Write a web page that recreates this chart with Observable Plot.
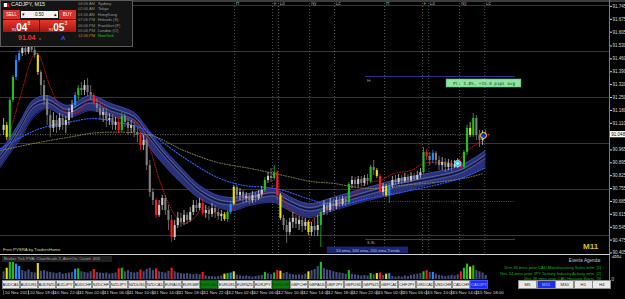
<!DOCTYPE html>
<html><head><meta charset="utf-8">
<script src="https://cdn.jsdelivr.net/npm/d3@7"></script>
<script src="https://cdn.jsdelivr.net/npm/@observablehq/plot@0.6"></script>
<style>
html,body{margin:0;padding:0;background:#000;}
#wrap{position:relative;width:625px;height:299px;background:#000;overflow:hidden;font-family:"Liberation Sans",Arial,sans-serif;}
.a{position:absolute;white-space:nowrap;line-height:1;}
.btn{position:absolute;top:280px;height:7px;width:16px;background:#e9e9e9;border:0.5px solid #8c8c8c;color:#222;font-size:4px;line-height:7px;text-align:center;overflow:hidden;}
.tf{position:absolute;top:280px;height:7px;width:17px;background:#e9e9e9;border:0.5px solid #8c8c8c;color:#222;font-size:4.2px;line-height:7px;text-align:center;}
</style></head>
<body><div id="wrap"></div>
<script>
// ---------------- DATA ----------------
const open0 = 91.071;
const close = [91.098,91.033,91.234,91.359,91.451,91.489,91.516,91.495,91.533,91.506,
91.478,91.386,91.315,91.234,91.152,91.082,91.125,91.087,91.136,91.098,
91.125,91.168,91.207,91.261,91.299,91.288,91.315,91.277,91.261,91.217,
91.190,91.152,91.168,91.125,91.136,91.098,91.114,91.071,91.147,91.114,
91.082,91.098,91.060,91.044,90.989,91.016,90.880,90.734,90.690,90.609,
90.663,90.701,90.636,90.582,90.489,90.554,90.593,90.571,90.609,90.582,
90.625,90.663,90.647,90.674,90.620,90.636,90.614,90.647,90.625,90.603,
90.614,90.587,90.625,90.669,90.761,90.717,90.734,90.701,90.712,90.690,
90.717,90.701,90.723,90.745,90.799,90.821,90.810,90.842,90.717,90.593,
90.554,90.516,90.571,90.593,90.560,90.582,90.549,90.571,90.516,90.549,
90.527,90.554,90.625,90.663,90.636,90.674,90.658,90.690,90.669,90.696,
90.679,90.777,90.799,90.777,90.804,90.783,90.810,90.794,90.870,90.853,
90.821,90.734,90.766,90.717,90.772,90.799,90.788,90.810,90.794,90.815,
90.799,90.821,90.804,90.826,90.842,90.951,90.929,90.908,90.946,90.908,
90.880,90.897,90.870,90.891,90.870,90.886,90.897,90.870,90.951,91.082,
91.044,91.136,91.044,91.016,91.049,91.048];
const high = [91.136,91.114,91.245,91.370,91.478,91.506,91.538,91.533,91.560,91.549,
91.527,91.489,91.397,91.342,91.261,91.179,91.168,91.152,91.163,91.158,
91.147,91.190,91.234,91.277,91.315,91.332,91.342,91.353,91.315,91.272,
91.245,91.217,91.190,91.190,91.163,91.158,91.141,91.136,91.168,91.163,
91.136,91.125,91.114,91.087,91.060,91.044,91.027,90.908,90.755,90.701,
90.690,90.717,90.717,90.663,90.609,90.582,90.625,90.620,90.636,90.625,
90.652,90.690,90.690,90.701,90.696,90.663,90.658,90.674,90.663,90.647,
90.636,90.625,90.636,90.679,90.772,90.772,90.755,90.745,90.734,90.728,
90.739,90.734,90.745,90.766,90.815,90.842,90.864,90.880,90.853,90.728,
90.609,90.582,90.593,90.625,90.609,90.603,90.598,90.593,90.582,90.571,
90.593,90.609,90.636,90.690,90.679,90.701,90.696,90.707,90.707,90.712,
90.712,90.788,90.821,90.815,90.821,90.821,90.826,90.832,90.880,90.908,
90.864,90.832,90.783,90.777,90.783,90.821,90.826,90.832,90.826,90.837,
90.832,90.842,90.837,90.848,90.864,90.978,90.967,90.951,90.962,90.956,
90.929,90.924,90.918,90.913,90.908,90.908,90.918,90.908,90.962,91.098,
91.114,91.163,91.152,91.071,91.071,91.071];
const low = [91.044,91.016,91.016,91.223,91.342,91.440,91.473,91.478,91.484,91.495,
91.462,91.370,91.261,91.207,91.098,91.033,91.060,91.054,91.071,91.071,
91.054,91.098,91.136,91.190,91.234,91.261,91.261,91.255,91.234,91.207,
91.168,91.125,91.114,91.087,91.098,91.071,91.071,91.054,91.060,91.087,
91.044,91.054,91.033,91.005,90.962,90.962,90.853,90.707,90.663,90.593,
90.598,90.636,90.609,90.527,90.462,90.473,90.538,90.544,90.554,90.560,
90.571,90.609,90.625,90.636,90.609,90.593,90.582,90.598,90.593,90.582,
90.576,90.576,90.571,90.614,90.663,90.696,90.690,90.674,90.679,90.669,
90.674,90.679,90.690,90.707,90.734,90.783,90.788,90.799,90.690,90.582,
90.527,90.457,90.500,90.538,90.538,90.527,90.516,90.527,90.500,90.495,
90.495,90.495,90.435,90.609,90.609,90.625,90.636,90.641,90.652,90.658,
90.658,90.669,90.755,90.755,90.761,90.766,90.766,90.772,90.783,90.826,
90.810,90.723,90.717,90.707,90.674,90.755,90.772,90.777,90.777,90.783,
90.783,90.788,90.794,90.799,90.810,90.832,90.908,90.880,90.891,90.880,
90.853,90.853,90.842,90.853,90.848,90.864,90.864,90.859,90.859,90.935,
91.033,91.033,91.016,90.978,90.989,91.033];
const volume = [1300,1900,2900,3300,2600,2200,1500,1300,1600,1200,
1100,2700,1400,1500,1300,1200,1100,1000,1200,900,
1000,1100,1200,1700,1800,1300,1200,1100,1300,1700,
1200,1100,1000,1100,900,1000,1100,1800,1900,1300,
1500,1200,1100,1200,1600,1300,1700,1900,1500,1800,
1300,1200,1100,1400,1900,1300,1100,1000,900,1000,
900,800,900,800,1200,600,500,500,400,500,
600,900,1000,1100,1300,700,600,500,600,500,
400,500,600,700,1200,900,800,1100,1500,1400,
1000,1200,900,800,700,800,700,900,1300,1500,
1700,2200,2900,1800,1600,1500,1300,1200,1100,1000,
900,1500,900,800,700,600,700,600,1000,800,
1000,1100,700,900,1000,500,400,500,400,600,
500,700,800,900,1000,1300,1500,1200,1200,900,
700,600,500,600,700,600,800,1300,1900,2600,
2100,2300,1500,1300,1100,700];
// PVSRA climax / rising-volume candles
const pvsraIdx  = [1,2,3,4,5,11,23,24,29,37,38,44,49,54,64,71,72,73,74,84,87,88,89,98,102,111,118,120,121,123,124,135,136,138,147,148,149,150,151];
const pvsraType = ["yellow","green","green","blue","blue","yellow","blue","green","red","red","green","red","red","red","red","yellow","green","blue","yellow","green","green","red","yellow","yellow","green","green","green","yellow","red","yellow","blue","green","red","blue","red","green","green","yellow","green"];

// EMA ribbon (band) and moving averages
const bandIdx = [-1,2,5.5,9.5,14,20.5,28,34.5,42,46,52,58,63,69,74,79,87,90,98,106,117,128,138,147,155];
const bandTop = [90.962,91.027,91.125,91.234,91.261,91.207,91.261,91.217,91.168,91.087,90.962,90.853,90.772,90.717,90.707,90.728,90.755,90.728,90.674,90.707,90.761,90.810,90.842,90.880,90.962];
const bandBot = [90.870,90.946,91.027,91.141,91.190,91.141,91.179,91.147,91.109,91.000,90.875,90.772,90.701,90.652,90.636,90.663,90.679,90.652,90.598,90.636,90.690,90.734,90.783,90.810,90.870];
const fastIdx = [1.3,5.5,9.6,10.9,15.1,19.3,23.8,28,32.2,36.7,41.8,45,47.3,50.5,54.7,57.9,61.1,64.3,68.8,73,75.2,79.4,83.6,86.8,89.1,92.3,96.5,97.8,101.9,106.1,111.6,117,121.2,125.4,130.9,135,140.5,146,149.2,152.4,154.3];
const fastMA  = [91.016,91.261,91.478,91.489,91.304,91.179,91.168,91.250,91.207,91.141,91.125,91.071,90.962,90.783,90.620,90.565,90.593,90.652,90.620,90.636,90.690,90.701,90.728,90.772,90.717,90.636,90.593,90.565,90.625,90.652,90.707,90.788,90.799,90.837,90.853,90.891,90.897,90.908,90.962,91.000,91.016];
const midIdx = [-1,5.5,11.9,20.6,28.9,36.7,44,47.3,57.9,68.8,77.2,84.9,90,97.7,106.1,117,127.7,138.3,146.9,154.3];
const midMA  = [90.973,91.033,91.082,91.114,91.136,91.114,91.087,91.054,90.924,90.815,90.772,90.761,90.745,90.701,90.663,90.701,90.734,90.772,90.810,90.864];
const slowIdx = [-1,9.6,20.6,31.2,47.3,57.9,68.8,79.4,90,98.7,106.1,117,127.7,138.3,149.2,154.3];
const slowMA  = [90.962,91.000,91.033,91.060,91.044,90.962,90.897,90.864,90.826,90.794,90.783,90.755,90.772,90.788,90.815,90.837];

// levels
const quarterLevels = [91.75, 91.50, 91.25, 91.00, 90.75, 90.50];
const bid = 91.048;
const tpLevel = 91.364, slLevel = 90.478, midLevel = 90.685;
const tradeFrom = 116.4, tradeTo = 164.6, midFrom = 118;
const targetMark = {i: 146, p: 90.891};
const entryMark = {i: 154.3, p: 91.044};

// session markers and axes
const sessionIdx = [74.3,86.5,88.4,98.4,106.4,122.5,134.7,136.7,146.6,154.7];
const sessionLabels = ["H","F","Lo","Ny","Lc","H","F","Lo","Ny","Lc"];
const priceTicks = [91.745,91.675,91.605,91.530,91.460,91.390,91.320,91.250,91.180,91.110,90.965,90.895,90.825,90.755,90.685,90.615,90.545,90.475,90.405];
const timeLabels = ["10 Nov 2021","10 Nov 18:00","10 Nov 22:00","11 Nov 02:00","11 Nov 06:00","11 Nov 10:00","11 Nov 14:00","11 Nov 18:00","11 Nov 22:00","12 Nov 02:00","12 Nov 06:00","12 Nov 10:00","12 Nov 14:00","12 Nov 18:00","12 Nov 22:00","15 Nov 02:00","15 Nov 06:00","15 Nov 10:00","15 Nov 14:00","15 Nov 18:00"];
const BARS_PER_LABEL = 8;
const volMax = 3882;

const pairs = ["AUDCAD","AUDUSD","AUDNZD","AUDJPY","AUDCHF","NZDCHF","NZDJPY","NZDUSD","NZDCAD","EURAUD","EURGBP","EURCAD","EURUSD","EURNZD","EURJPY","EURCHF","GBPCHF","GBPAUD","GBPJPY","GBPUSD","GBPNZD","GBPCAD","CHFJPY","USDCAD","USDCHF","CADCHF","CADJPY"];
const timeframes = ["M5","M15","M30","H1","H4"];
const zones = [["04:06 AM","Sydney"],["02:06 AM","Tokyo"],["01:06 AM","HongKong"],["07:06 PM","Helsinki (S)"],["06:06 PM","Frankfurt (F)"],["05:06 PM","London (O)"],["12:06 PM","NewYork"]];

// ---------------- STYLE / BUILD ----------------
const COL = {up:"#c9c9c9", down:"#7f7f7f", green:"#1ec21e", red:"#ff1a1a", blue:"#1f8fff", yellow:"#e8e400"};
const VOLCOL = {up:"#454d7c", down:"#454d7c", green:"#1ec21e", red:"#ff1a1a", blue:"#1f8fff", yellow:"#e8e400"};
const kindMap = new Map(pvsraIdx.map((k, j) => [k, pvsraType[j]]));
const candles = close.map((c, i) => {
  const o = i === 0 ? open0 : close[i - 1];
  return {i, o, c, h: high[i], l: low[i], v: volume[i], kind: kindMap.get(i) || (c >= o ? "up" : "down")};
});
const band = bandIdx.map((x, k) => ({x, top: bandTop[k], bot: bandBot[k]}));
const fast = fastIdx.map((x, k) => ({x, v: fastMA[k]}));
const mid = midIdx.map((x, k) => ({x, v: midMA[k]}));
const slow = slowIdx.map((x, k) => ({x, v: slowMA[k]}));
const levelColor = d => (Math.abs(d - Math.round(d)) < 1e-6) ? "#24386e" : (Math.abs(d*2 - Math.round(d*2)) < 1e-6 ? "#1b4d1b" : "#4a2f1f");
const timeIdx = timeLabels.map((_, k) => k * BARS_PER_LABEL);

const X_DOMAIN = [-1, 194.8];
const FONT = "Liberation Sans, Arial, sans-serif";
const curve = "catmull-rom";

const wrap = document.getElementById("wrap");
function place(node, left, top) {
  const d = document.createElement("div");
  d.style.position = "absolute"; d.style.left = left + "px"; d.style.top = top + "px";
  d.appendChild(node); wrap.appendChild(d); return d;
}

const main = Plot.plot({
  width: 625, height: 254,
  marginLeft: 0, marginRight: 16, marginTop: 0, marginBottom: 0,
  style: {background: "transparent", color: "#d8d8d8", fontSize: "4.5px", fontFamily: FONT},
  color: {type: "identity"},
  x: {domain: X_DOMAIN, axis: null},
  y: {domain: [90.3967, 91.7772], axis: "right", ticks: priceTicks, tickFormat: d3.format(".3f"), tickSize: 2, tickPadding: 1, label: null},
  marks: [
    Plot.ruleY(quarterLevels, {y: d => d, stroke: d => levelColor(d), strokeWidth: 1}),
    Plot.ruleX(sessionIdx, {x: d => d, stroke: "#7a7a7a", strokeWidth: 0.7, strokeDasharray: "1,2"}),
    Plot.text(sessionIdx, {x: d => d, text: (d, k) => sessionLabels[k], frameAnchor: "top", dy: 1, dx: 1.3, textAnchor: "start", lineAnchor: "top", fill: "#a8a8a8", fontSize: 4.5}),
    Plot.areaY(band, {x: "x", y1: "bot", y2: "top", fill: "#28317a", curve}),
    Plot.line(band, {x: "x", y: "top", stroke: "#3b47a8", strokeWidth: 0.8, curve}),
    Plot.line(band, {x: "x", y: "bot", stroke: "#3b47a8", strokeWidth: 0.8, curve}),
    Plot.line(band, {x: "x", y: "top", dy: 4, stroke: "#7c84a8", strokeWidth: 0.6, curve}),
    Plot.line(band, {x: "x", y: "top", dy: 5.8, stroke: "#0c0c2a", strokeWidth: 1, curve}),
    Plot.line(band, {x: "x", y: "top", dy: 7.6, stroke: "#6c7398", strokeWidth: 0.6, curve}),
    Plot.line(slow, {x: "x", y: "v", stroke: "#8b8a52", strokeWidth: 1, strokeDasharray: "1,1.6", curve}),
    Plot.line(mid, {x: "x", y: "v", stroke: "#2f5cff", strokeWidth: 1.2, strokeDasharray: "1,1.8", curve}),
    Plot.line(fast, {x: "x", y: "v", stroke: "#c41414", strokeWidth: 1, strokeDasharray: "1,1.5", curve}),
    Plot.ruleY([bid], {x1: -1, x2: 154.5, stroke: "#8c8c8c", strokeWidth: 0.8, strokeDasharray: "1,1.5"}),
    Plot.ruleY([midLevel], {x1: midFrom, x2: tradeTo, stroke: "#9a3a9a", strokeWidth: 0.8, strokeDasharray: "1,1.3"}),
    Plot.ruleY([tpLevel], {x1: tradeFrom, x2: tradeTo, stroke: "#3434a0", strokeWidth: 0.9}),
    Plot.ruleY([slLevel], {x1: tradeFrom, x2: tradeTo, stroke: "#9a2a2a", strokeWidth: 0.9}),
    Plot.text([tpLevel], {x: tradeFrom + 0.4, y: d => d, text: ["Hi"], dy: 3, textAnchor: "start", lineAnchor: "top", fill: "#9a9aa8", fontSize: 4}),
    Plot.text([slLevel], {x: tradeFrom + 0.4, y: d => d, text: ["S.SL"], dy: 1.5, textAnchor: "start", lineAnchor: "top", fill: "#a8a8a8", fontSize: 4}),
    Plot.ruleX(candles, {x: "i", y1: "l", y2: "h", stroke: d => COL[d.kind], strokeWidth: 0.8}),
    Plot.ruleX(candles, {x: "i", y1: "o", y2: "c", stroke: d => COL[d.kind], strokeWidth: 2.1}),
    Plot.rect([{x1: 142.4, x2: 166.5, y1: 91.304, y2: 91.348}], {x1: "x1", x2: "x2", y1: "y1", y2: "y2", fill: "#8ee6a2", stroke: "#3fa85a", strokeWidth: 0.5}),
    Plot.text(["Pl: 3.85, +15.6 pips avg"], {x: 154.45, y: 91.326, text: d => d, fill: "#0d3b18", fontSize: 4.3, fontFamily: "DejaVu Sans Mono, monospace"}),
    Plot.rect([{x1: 104.1, x2: 130.2, y1: 90.401, y2: 90.437}], {x1: "x1", x2: "x2", y1: "y1", y2: "y2", fill: "#1d2572"}),
    Plot.text(["50 ema, 100 ema, 200 ema Trends"], {x: 117.15, y: 90.419, text: d => d, fill: "#b8c0e8", fontSize: 4.1}),
    Plot.dot([targetMark], {x: "i", y: "p", r: 3.2, fill: "#00d4ff", stroke: "#ffffff", strokeWidth: 0.5}),
    Plot.dot([targetMark], {x: "i", y: "p", r: 1.4, fill: "#ffffff"}),
    Plot.dot([targetMark], {x: d => d.i + 1.3, y: "p", r: 0.9, fill: "#ff2020"}),
    Plot.dot([entryMark], {x: "i", y: "p", r: 3, fill: "#1424e0", stroke: "#ffe800", strokeWidth: 1}),
    Plot.dot([entryMark], {x: d => d.i + 1.6, y: d => d.p + 0.004, r: 0.9, fill: "#ff2020"}),
    Plot.rect([bid], {x1: 195.1, x2: 200.2, y1: d => d - 0.017, y2: d => d + 0.017, fill: "#ffffff"}),
    Plot.text([bid], {x: 195.4, y: d => d, text: d => d.toFixed(3), textAnchor: "start", fill: "#000", fontSize: 4.5})
  ]
});
place(main, 0, 0);

const sub = Plot.plot({
  width: 625, height: 34,
  marginLeft: 0, marginRight: 16, marginTop: 1, marginBottom: 10,
  style: {background: "transparent", color: "#d8d8d8", fontSize: "4.5px", fontFamily: FONT},
  color: {type: "identity"},
  x: {domain: X_DOMAIN, axis: null},
  y: {domain: [0, volMax], axis: "right", ticks: [0, volMax], tickFormat: d => String(d), tickSize: 0, tickPadding: 2, label: null},
  marks: [
    Plot.ruleX(candles, {x: "i", y1: 0, y2: "v", stroke: d => VOLCOL[d.kind], strokeWidth: 2.1})
  ]
});
place(sub, 0, 255);

const timeAxis = Plot.plot({
  width: 625, height: 11,
  marginLeft: 0, marginRight: 16, marginTop: 1, marginBottom: 3,
  style: {background: "transparent", color: "#cfcfcf", fontSize: "4.5px", fontFamily: FONT},
  x: {domain: X_DOMAIN, axis: null},
  marks: [
    Plot.tickX(timeIdx, {x: d => d, stroke: "#9a9a9a", strokeWidth: 0.6, insetTop: 1, insetBottom: 1}),
    Plot.text(timeIdx, {x: d => d, text: (d, k) => timeLabels[k], frameAnchor: "middle", dx: 1.2, textAnchor: "start", fill: "#d0d0d0", fontSize: 4.4})
  ]
});
place(timeAxis, 0, 288);

// ---------------- CHROME (terminal UI) ----------------
function div(html, css) { const d = document.createElement("div"); d.className = "a"; d.style.cssText += css; d.innerHTML = html; wrap.appendChild(d); return d; }
div("", "left:0;top:0;width:625px;height:2px;background:#3c3c3c;");
div("", "left:609px;top:0;width:1px;height:289px;background:#7c7c7c;");
div("", "left:0;top:254px;width:610px;height:1px;background:#cfcfcf;");
div("Free PVSRA by TradersHome", "left:3px;top:247.5px;font-size:4.3px;color:#d6d6a8;");
div("M11", "left:583px;top:243px;font-size:8px;font-weight:bold;color:#d8c400;");
div("Broker Tick PVA: ChartScale 2, AlertOn, Count: 403", "left:2px;top:256px;padding:1px 2px;font-size:4.2px;color:#a0a0a0;background:#202020;width:106px;");
// events agenda
div("Events Agenda:", "right:24px;top:259px;font-size:4.6px;color:#c8c8c8;text-align:right;");
div("1hrs 36 mins prior CAD Manufacturing Sales m/m &nbsp;[1]", "right:24px;top:266px;font-size:4.1px;color:#19b619;");
div("1hrs 24 mins prior JPY Tertiary Industry Activity m/m &nbsp;[2]", "right:24px;top:271.5px;font-size:4.1px;color:#19b619;");
div("1hrs 36 mins prior CAD Housing Starts &nbsp;[3]", "right:24px;top:277px;font-size:4.1px;color:#19b619;");
// pair buttons
pairs.forEach((p, k) => {
  const b = document.createElement("div"); b.className = "btn";
  b.style.left = (1.5 + k * 18.02) + "px"; b.textContent = p;
  if (p === "EURCAD" || p === "EURCHF") { b.style.background = "#0f7a12"; b.style.color = "#063806"; b.style.borderColor = "#0a5a0a"; }
  if (p === "CADJPY") { b.style.background = "#1f2df0"; b.style.color = "#b8c4ff"; b.style.borderColor = "#4050ff"; }
  wrap.appendChild(b);
});
timeframes.forEach((t, k) => {
  const b = document.createElement("div"); b.className = "tf";
  b.style.left = (518 + k * 18.6) + "px"; b.textContent = t;
  if (t === "M15") { b.style.background = "#1f2df0"; b.style.color = "#b8c4ff"; }
  wrap.appendChild(b);
});
// trade panel (top-left)
div("", "left:0;top:0;width:131px;height:45px;background:#141414;border:1px solid #5c5c5c;");
div("", "left:3px;top:2.5px;width:6px;height:4px;background:linear-gradient(90deg,#e00 0 25%,#fff 25% 75%,#e00 75%);");
div("CADJPY, M15", "left:11px;top:2px;font-size:5.4px;color:#f0f0f0;");
div("SELL", "left:3px;top:9.5px;width:17px;height:9px;line-height:9px;text-align:center;background:#d6322a;color:#fff;font-size:4.5px;");
div("<span style='float:left;padding-left:1px'>&#9662;</span>0.50<span style='float:right;padding-right:1px'>&#9652;</span>", "left:21px;top:11px;width:37px;height:7px;line-height:7px;text-align:center;background:#f2f2f2;color:#111;font-size:4.5px;");
div("BUY", "left:59px;top:9.5px;width:17px;height:9px;line-height:9px;text-align:center;background:#d6322a;color:#fff;font-size:4.5px;");
const pbox = "height:12px;line-height:12px;text-align:center;background:linear-gradient(#e4382e,#a8140e);color:#fff;overflow:hidden;";
div("<span style='font-size:4px'>91</span><span style='font-size:10px;font-weight:bold'>04</span><span style='font-size:5px;vertical-align:top;line-height:7px'>8</span>", "left:3px;top:20px;width:36px;" + pbox);
div("<span style='font-size:4px'>91</span><span style='font-size:10px;font-weight:bold'>05</span><span style='font-size:5px;vertical-align:top;line-height:7px'>3</span>", "left:40px;top:20px;width:36px;" + pbox);
div("91.04", "left:18px;top:34px;font-size:7px;font-weight:bold;color:#ff2a2a;");
div("s", "left:39px;top:36.5px;font-size:4px;color:#9a9a9a;");
div("A", "left:61px;top:35px;font-size:6px;font-weight:bold;color:#3a56ff;");
zones.forEach((z, k) => {
  const last = k === zones.length - 1;
  div(z[0], `left:78px;top:${2 + k*5.4}px;font-size:4px;color:${last ? "#c0803a" : "#8c8c8c"};`);
  div(z[1], `left:98px;top:${2 + k*5.4}px;font-size:4px;color:${last ? "#1fc21f" : "#9c9c9c"};`);
});
</script>
</body></html>
